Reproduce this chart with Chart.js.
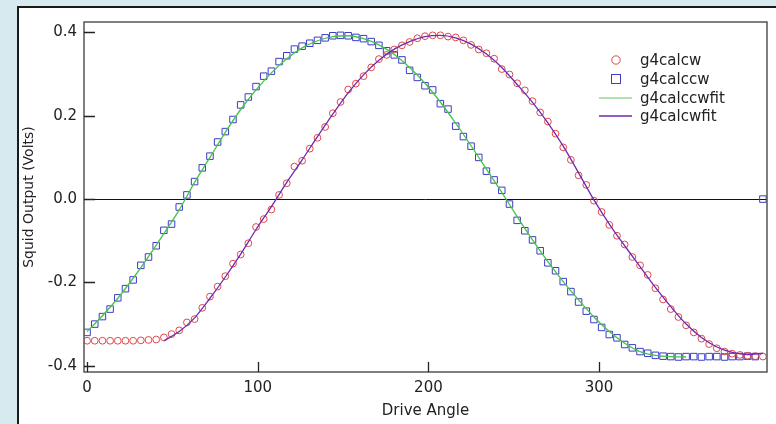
<!DOCTYPE html>
<html>
<head>
<meta charset="utf-8">
<script src="https://cdn.jsdelivr.net/npm/chart.js@4"></script>
<style>
  body { margin: 0; background: #d6eaf0; }
  canvas { display: block; }
</style>
</head>
<body>
<canvas id="myChart" width="776" height="424"></canvas>
<script>
// drive angle of each measured point (deg)
const angles = [
  0, 4.5, 9, 13.5, 18, 22.5, 27, 31.5, 36, 40.5,
  45, 49.5, 54, 58.5, 63, 67.5, 72, 76.5, 81, 85.5,
  90, 94.5, 99, 103.5, 108, 112.5, 117, 121.5, 126, 130.5,
  135, 139.5, 144, 148.5, 153, 157.5, 162, 166.5, 171, 175.5,
  180, 184.5, 189, 193.5, 198, 202.5, 207, 211.5, 216, 220.5,
  225, 229.5, 234, 238.5, 243, 247.5, 252, 256.5, 261, 265.5,
  270, 274.5, 279, 283.5, 288, 292.5, 297, 301.5, 306, 310.5,
  315, 319.5, 324, 328.5, 333, 337.5, 342, 346.5, 351, 355.5,
  360, 364.5, 369, 373.5, 378, 382.5, 387, 391.5, 396
]

// g4calcw (circles)
const g4calcw = [
  -0.340, -0.340, -0.340, -0.340, -0.340, -0.340, -0.340, -0.339, -0.338, -0.337,
  -0.332, -0.324, -0.315, -0.296, -0.288, -0.261, -0.234, -0.210, -0.185, -0.155,
  -0.133, -0.106, -0.067, -0.048, -0.025, 0.010, 0.038, 0.078, 0.092, 0.121,
  0.147, 0.173, 0.206, 0.233, 0.263, 0.277, 0.295, 0.316, 0.336, 0.346,
  0.359, 0.369, 0.377, 0.386, 0.391, 0.393, 0.393, 0.390, 0.388, 0.381,
  0.370, 0.359, 0.350, 0.337, 0.312, 0.299, 0.278, 0.261, 0.235, 0.208,
  0.186, 0.157, 0.124, 0.094, 0.057, 0.034, -0.004, -0.031, -0.062, -0.088,
  -0.109, -0.139, -0.159, -0.182, -0.214, -0.241, -0.264, -0.283, -0.303, -0.320,
  -0.335, -0.348, -0.358, -0.366, -0.371, -0.374, -0.376, -0.377, -0.378
]

// g4calccw (squares)
const g4calccw = [
  -0.320, -0.300, -0.282, -0.264, -0.237, -0.215, -0.194, -0.159, -0.139, -0.112,
  -0.075, -0.060, -0.019, 0.010, 0.042, 0.075, 0.103, 0.137, 0.162, 0.191,
  0.226, 0.245, 0.270, 0.295, 0.307, 0.330, 0.344, 0.360, 0.367, 0.374,
  0.381, 0.387, 0.392, 0.393, 0.392, 0.388, 0.385, 0.378, 0.369, 0.356,
  0.346, 0.334, 0.309, 0.292, 0.272, 0.262, 0.229, 0.216, 0.175, 0.150,
  0.127, 0.100, 0.067, 0.046, 0.021, -0.012, -0.051, -0.076, -0.098, -0.124,
  -0.153, -0.172, -0.198, -0.222, -0.247, -0.269, -0.289, -0.308, -0.325, -0.333,
  -0.349, -0.357, -0.366, -0.370, -0.375, -0.377, -0.378, -0.379, -0.378, -0.378,
  -0.379, -0.378, -0.378, -0.379, -0.378, -0.378, -0.377, -0.378, 0.000
]

// fit curves
const ccwFitAngles = [
  0, 9, 18, 27, 36, 45, 54, 63, 72, 81,
  90, 99, 108, 117, 126, 135, 144, 153, 162, 171,
  180, 189, 198, 207, 216, 225, 234, 243, 252, 261,
  270, 279, 288, 297, 306, 315, 324, 333, 342, 351
]
const g4calccwfit = [
  -0.318, -0.280, -0.238, -0.190, -0.138, -0.083, -0.026, 0.040, 0.100, 0.160,
  0.215, 0.262, 0.303, 0.337, 0.363, 0.380, 0.390, 0.392, 0.385, 0.370,
  0.347, 0.316, 0.278, 0.233, 0.182, 0.128, 0.072, 0.016, -0.042, -0.098,
  -0.150, -0.198, -0.242, -0.283, -0.318, -0.346, -0.366, -0.375, -0.378, -0.379
]
const cwFitAngles = [
  45, 54, 63, 72, 81, 90, 99, 108, 117, 126,
  135, 144, 153, 162, 171, 180, 189, 198, 207, 216,
  225, 234, 243, 252, 261, 270, 279, 288, 297, 306,
  315, 324, 333, 342, 351, 360, 369, 378, 387, 396
]
const g4calcwfit = [
  -0.340, -0.318, -0.285, -0.238, -0.187, -0.132, -0.073, -0.018, 0.040, 0.094,
  0.150, 0.204, 0.255, 0.298, 0.333, 0.360, 0.378, 0.390, 0.393, 0.387,
  0.372, 0.348, 0.316, 0.275, 0.232, 0.183, 0.127, 0.063, -0.002, -0.060,
  -0.112, -0.162, -0.212, -0.258, -0.300, -0.332, -0.355, -0.368, -0.373, -0.370
]

const xTicks = [0, 100, 200, 300]
const yTicks = [-0.4, -0.2, 0.0, 0.2, 0.4]

function pairs(xs, ys) {
  return xs.map((x, i) => ({ x: x, y: ys[i] }))
}

const data = {
  datasets: [
    {
      label: 'g4calcw',
      data: pairs(angles, g4calcw),
      showLine: false,
      pointStyle: 'circle',
      pointRadius: 3.4,
      pointBorderWidth: 1,
      pointBorderColor: 'rgb(222, 72, 72)',
      pointBackgroundColor: 'rgba(0,0,0,0)',
      order: 2,
    },
    {
      label: 'g4calccw',
      data: pairs(angles, g4calccw),
      showLine: false,
      pointStyle: 'rect',
      pointRadius: 4.6,
      pointBorderWidth: 1,
      pointBorderColor: 'rgb(60, 60, 200)',
      pointBackgroundColor: 'rgba(0,0,0,0)',
      order: 2,
    },
    {
      label: 'g4calccwfit',
      data: pairs(ccwFitAngles, g4calccwfit),
      showLine: true,
      borderColor: 'rgb(70, 195, 70)',
      borderWidth: 1.3,
      pointRadius: 0,
      cubicInterpolationMode: 'monotone',
      order: 1,
    },
    {
      label: 'g4calcwfit',
      data: pairs(cwFitAngles, g4calcwfit),
      showLine: true,
      borderColor: 'rgb(115, 40, 175)',
      borderWidth: 1.3,
      pointRadius: 0,
      cubicInterpolationMode: 'monotone',
      order: 0,
    },
  ],
}

// background panel, frame, inside tick marks and the legend
const decor = {
  id: 'decor',
  beforeDraw(chart) {
    const ctx = chart.ctx
    ctx.save()
    ctx.fillStyle = '#d6eaf0'
    ctx.fillRect(0, 0, chart.width, chart.height)
    ctx.fillStyle = '#ffffff'
    ctx.fillRect(18, 7, chart.width - 18, chart.height - 7)
    ctx.strokeStyle = '#1a1a1a'
    ctx.lineWidth = 2
    ctx.beginPath()
    ctx.moveTo(18, chart.height)
    ctx.lineTo(18, 7)
    ctx.lineTo(chart.width, 7)
    ctx.stroke()
    ctx.restore()
  },
  afterDraw(chart) {
    const ctx = chart.ctx
    const a = chart.chartArea
    const xs = chart.scales.x
    const ys = chart.scales.y
    ctx.save()
    ctx.strokeStyle = '#555'
    ctx.lineWidth = 1.5
    ctx.strokeRect(a.left, a.top, a.right - a.left, a.bottom - a.top)

    ctx.strokeStyle = '#222'
    ctx.lineWidth = 1.3
    ctx.beginPath()
    yTicks.forEach(v => {
      const py = Math.round(ys.getPixelForValue(v)) + 0.5
      ctx.moveTo(a.left, py)
      ctx.lineTo(a.left + 11, py)
    })
    xTicks.forEach(v => {
      const px = Math.round(xs.getPixelForValue(v)) + 0.5
      ctx.moveTo(px, a.bottom)
      ctx.lineTo(px, a.bottom - 10)
    })
    ctx.stroke()

    // legend
    const mx = a.right - 151
    const tx = a.right - 127
    const rows = [a.top + 38, a.top + 57, a.top + 76, a.top + 94]
    const ds = chart.data.datasets
    ctx.font = '15px "DejaVu Sans"'
    ctx.textBaseline = 'middle'
    ctx.textAlign = 'left'
    ctx.lineWidth = 1
    ctx.strokeStyle = ds[0].pointBorderColor
    ctx.beginPath()
    ctx.arc(mx, rows[0], 4.2, 0, Math.PI * 2)
    ctx.stroke()
    ctx.strokeStyle = ds[1].pointBorderColor
    ctx.strokeRect(mx - 4.5, rows[1] - 4.5, 9, 9)
    ctx.lineWidth = 1.5
    ctx.strokeStyle = 'rgb(150, 215, 150)'
    ctx.beginPath()
    ctx.moveTo(mx - 17, rows[2])
    ctx.lineTo(mx + 16, rows[2])
    ctx.stroke()
    ctx.strokeStyle = ds[3].borderColor
    ctx.beginPath()
    ctx.moveTo(mx - 17, rows[3])
    ctx.lineTo(mx + 16, rows[3])
    ctx.stroke()
    ctx.fillStyle = '#222'
    ds.forEach((d, i) => ctx.fillText(d.label, tx, rows[i] + 1))
    ctx.restore()
  },
}

Chart.defaults.font.family = '"DejaVu Sans", Verdana, sans-serif'
Chart.defaults.font.size = 13
Chart.defaults.color = '#222'

const config = {
  type: 'scatter',
  data: data,
  plugins: [decor],
  options: {
    responsive: false,
    devicePixelRatio: 1,
    animation: false,
    layout: {
      padding: { left: 0, top: 22, right: 9, bottom: 0 },
    },
    scales: {
      x: {
        type: 'linear',
        min: -1.8,
        max: 398.4,
        afterBuildTicks: scale => { scale.ticks = xTicks.map(v => ({ value: v })) },
        afterFit: scale => { scale.height = 52 },
        ticks: {
          padding: 7,
          maxRotation: 0,
          font: { size: 15 },
          callback: v => String(v),
        },
        grid: { display: false, drawTicks: false },
        border: { display: false },
        title: {
          display: true,
          text: 'Drive Angle',
          font: { size: 15 },
          padding: { top: 0, bottom: 4 },
        },
      },
      y: {
        type: 'linear',
        min: -0.415,
        max: 0.425,
        afterBuildTicks: scale => { scale.ticks = yTicks.map(v => ({ value: v })) },
        afterFit: scale => { scale.width = 84 },
        ticks: {
          padding: 7,
          font: { size: 15 },
          callback: v => Number(v).toFixed(1),
        },
        grid: {
          drawTicks: false,
          lineWidth: 1,
          color: ctx => (ctx.tick && Math.abs(ctx.tick.value) < 1e-9 ? '#111' : 'rgba(0,0,0,0)'),
        },
        border: { display: false },
        title: {
          display: true,
          text: 'Squid Output (Volts)',
          font: { size: 14 },
          padding: { top: 21, bottom: 0 },
        },
      },
    },
    plugins: {
      legend: { display: false },
      tooltip: { enabled: false },
    },
  },
}

const chart = new Chart(document.getElementById('myChart'), config)
</script>
</body>
</html>
